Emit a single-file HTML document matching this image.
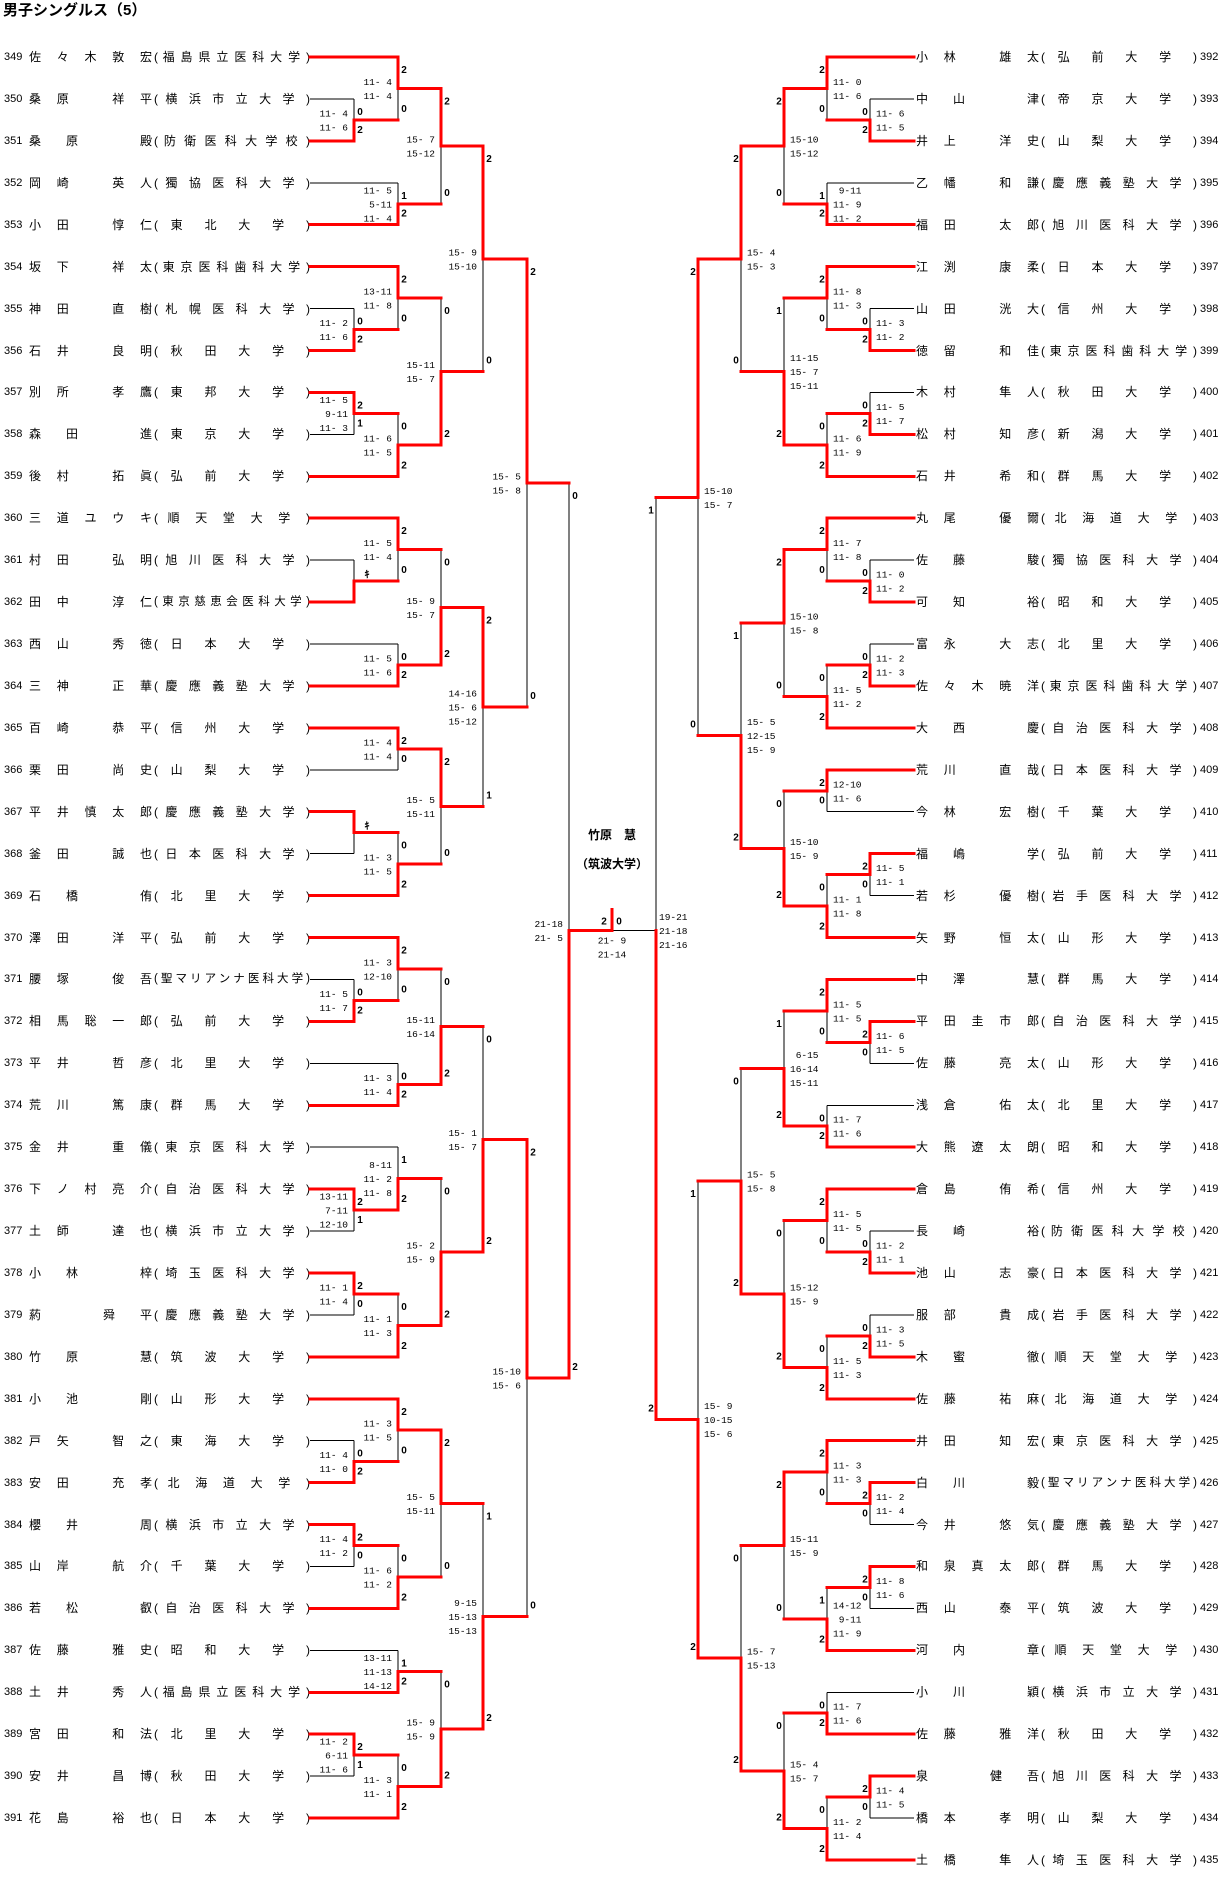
<!DOCTYPE html>
<html><head><meta charset="utf-8">
<style>
html,body{margin:0;padding:0;background:#fff;}
body{width:1225px;height:1885px;position:relative;overflow:hidden;font-family:"Liberation Sans","Noto Sans CJK JP",sans-serif;color:#000;}
.t{position:absolute;left:3px;top:2px;font-size:15px;line-height:18px;font-weight:bold;}
.row{position:absolute;left:0;width:1225px;height:16px;top:calc(49px + var(--i) * 41.93px);font-size:12px;line-height:16px;white-space:nowrap;}
.row span{position:absolute;top:0;}
.no{font-size:11px;}
.nm,.un{text-align:justify;text-align-last:justify;overflow:visible;}
.L .no{left:4px;}
.L .nm{left:29px;width:123px;}
.L .un{left:154px;width:156px;}
.R .nm{left:916px;width:123px;}
.R .un{left:1041px;width:156px;}
.R .no{left:1200px;}
.tight{font-size:11.5px;}
.ch{position:absolute;font-weight:bold;font-size:12px;text-align:center;width:100px;left:562px;}
svg{position:absolute;left:0;top:0;}
svg text.s{font-family:"Liberation Mono",monospace;font-size:9.5px;white-space:pre;}
svg text.l{font-family:"Liberation Sans",sans-serif;font-size:10px;font-weight:bold;}
</style></head><body>
<div class="t">男子シングルス（5）</div>

<div class="row L" style="--i:0"><span class="no">349</span><span class="nm">佐 々 木 敦 宏</span><span class="un">( 福 島 県 立 医 科 大 学 )</span></div>
<div class="row L" style="--i:1"><span class="no">350</span><span class="nm">桑 原 　 祥 平</span><span class="un">( 横 浜 市 立 大 学 )</span></div>
<div class="row L" style="--i:2"><span class="no">351</span><span class="nm">桑 原 　 殿</span><span class="un">( 防 衛 医 科 大 学 校 )</span></div>
<div class="row L" style="--i:3"><span class="no">352</span><span class="nm">岡 崎 　 英 人</span><span class="un">( 獨 協 医 科 大 学 )</span></div>
<div class="row L" style="--i:4"><span class="no">353</span><span class="nm">小 田 　 惇 仁</span><span class="un">( 東 北 大 学 )</span></div>
<div class="row L" style="--i:5"><span class="no">354</span><span class="nm">坂 下 　 祥 太</span><span class="un">( 東 京 医 科 歯 科 大 学 )</span></div>
<div class="row L" style="--i:6"><span class="no">355</span><span class="nm">神 田 　 直 樹</span><span class="un">( 札 幌 医 科 大 学 )</span></div>
<div class="row L" style="--i:7"><span class="no">356</span><span class="nm">石 井 　 良 明</span><span class="un">( 秋 田 大 学 )</span></div>
<div class="row L" style="--i:8"><span class="no">357</span><span class="nm">別 所 　 孝 鷹</span><span class="un">( 東 邦 大 学 )</span></div>
<div class="row L" style="--i:9"><span class="no">358</span><span class="nm">森 田 　 進</span><span class="un">( 東 京 大 学 )</span></div>
<div class="row L" style="--i:10"><span class="no">359</span><span class="nm">後 村 　 拓 眞</span><span class="un">( 弘 前 大 学 )</span></div>
<div class="row L" style="--i:11"><span class="no">360</span><span class="nm">三 道 ユ ウ キ</span><span class="un">( 順 天 堂 大 学 )</span></div>
<div class="row L" style="--i:12"><span class="no">361</span><span class="nm">村 田 　 弘 明</span><span class="un">( 旭 川 医 科 大 学 )</span></div>
<div class="row L" style="--i:13"><span class="no">362</span><span class="nm">田 中 　 淳 仁</span><span class="un tight">(東京慈恵会医科大学)</span></div>
<div class="row L" style="--i:14"><span class="no">363</span><span class="nm">西 山 　 秀 徳</span><span class="un">( 日 本 大 学 )</span></div>
<div class="row L" style="--i:15"><span class="no">364</span><span class="nm">三 神 　 正 華</span><span class="un">( 慶 應 義 塾 大 学 )</span></div>
<div class="row L" style="--i:16"><span class="no">365</span><span class="nm">百 崎 　 恭 平</span><span class="un">( 信 州 大 学 )</span></div>
<div class="row L" style="--i:17"><span class="no">366</span><span class="nm">栗 田 　 尚 史</span><span class="un">( 山 梨 大 学 )</span></div>
<div class="row L" style="--i:18"><span class="no">367</span><span class="nm">平 井 慎 太 郎</span><span class="un">( 慶 應 義 塾 大 学 )</span></div>
<div class="row L" style="--i:19"><span class="no">368</span><span class="nm">釜 田 　 誠 也</span><span class="un">( 日 本 医 科 大 学 )</span></div>
<div class="row L" style="--i:20"><span class="no">369</span><span class="nm">石 橋 　 侑</span><span class="un">( 北 里 大 学 )</span></div>
<div class="row L" style="--i:21"><span class="no">370</span><span class="nm">澤 田 　 洋 平</span><span class="un">( 弘 前 大 学 )</span></div>
<div class="row L" style="--i:22"><span class="no">371</span><span class="nm">腰 塚 　 俊 吾</span><span class="un tight">(聖マリアンナ医科大学)</span></div>
<div class="row L" style="--i:23"><span class="no">372</span><span class="nm">相 馬 聡 一 郎</span><span class="un">( 弘 前 大 学 )</span></div>
<div class="row L" style="--i:24"><span class="no">373</span><span class="nm">平 井 　 哲 彦</span><span class="un">( 北 里 大 学 )</span></div>
<div class="row L" style="--i:25"><span class="no">374</span><span class="nm">荒 川 　 篤 康</span><span class="un">( 群 馬 大 学 )</span></div>
<div class="row L" style="--i:26"><span class="no">375</span><span class="nm">金 井 　 重 儀</span><span class="un">( 東 京 医 科 大 学 )</span></div>
<div class="row L" style="--i:27"><span class="no">376</span><span class="nm">下 ノ 村 亮 介</span><span class="un">( 自 治 医 科 大 学 )</span></div>
<div class="row L" style="--i:28"><span class="no">377</span><span class="nm">土 師 　 達 也</span><span class="un">( 横 浜 市 立 大 学 )</span></div>
<div class="row L" style="--i:29"><span class="no">378</span><span class="nm">小 林 　 梓</span><span class="un">( 埼 玉 医 科 大 学 )</span></div>
<div class="row L" style="--i:30"><span class="no">379</span><span class="nm">葯 　 舜 平</span><span class="un">( 慶 應 義 塾 大 学 )</span></div>
<div class="row L" style="--i:31"><span class="no">380</span><span class="nm">竹 原 　 慧</span><span class="un">( 筑 波 大 学 )</span></div>
<div class="row L" style="--i:32"><span class="no">381</span><span class="nm">小 池 　 剛</span><span class="un">( 山 形 大 学 )</span></div>
<div class="row L" style="--i:33"><span class="no">382</span><span class="nm">戸 矢 　 智 之</span><span class="un">( 東 海 大 学 )</span></div>
<div class="row L" style="--i:34"><span class="no">383</span><span class="nm">安 田 　 充 孝</span><span class="un">( 北 海 道 大 学 )</span></div>
<div class="row L" style="--i:35"><span class="no">384</span><span class="nm">櫻 井 　 周</span><span class="un">( 横 浜 市 立 大 学 )</span></div>
<div class="row L" style="--i:36"><span class="no">385</span><span class="nm">山 岸 　 航 介</span><span class="un">( 千 葉 大 学 )</span></div>
<div class="row L" style="--i:37"><span class="no">386</span><span class="nm">若 松 　 叡</span><span class="un">( 自 治 医 科 大 学 )</span></div>
<div class="row L" style="--i:38"><span class="no">387</span><span class="nm">佐 藤 　 雅 史</span><span class="un">( 昭 和 大 学 )</span></div>
<div class="row L" style="--i:39"><span class="no">388</span><span class="nm">土 井 　 秀 人</span><span class="un">( 福 島 県 立 医 科 大 学 )</span></div>
<div class="row L" style="--i:40"><span class="no">389</span><span class="nm">宮 田 　 和 法</span><span class="un">( 北 里 大 学 )</span></div>
<div class="row L" style="--i:41"><span class="no">390</span><span class="nm">安 井 　 昌 博</span><span class="un">( 秋 田 大 学 )</span></div>
<div class="row L" style="--i:42"><span class="no">391</span><span class="nm">花 島 　 裕 也</span><span class="un">( 日 本 大 学 )</span></div>

<div class="row R" style="--i:0"><span class="nm">小 林 　 雄 太</span><span class="un">( 弘 前 大 学 )</span><span class="no">392</span></div>
<div class="row R" style="--i:1"><span class="nm">中 山 　 津</span><span class="un">( 帝 京 大 学 )</span><span class="no">393</span></div>
<div class="row R" style="--i:2"><span class="nm">井 上 　 洋 史</span><span class="un">( 山 梨 大 学 )</span><span class="no">394</span></div>
<div class="row R" style="--i:3"><span class="nm">乙 幡 　 和 謙</span><span class="un">( 慶 應 義 塾 大 学 )</span><span class="no">395</span></div>
<div class="row R" style="--i:4"><span class="nm">福 田 　 太 郎</span><span class="un">( 旭 川 医 科 大 学 )</span><span class="no">396</span></div>
<div class="row R" style="--i:5"><span class="nm">江 渕 　 康 柔</span><span class="un">( 日 本 大 学 )</span><span class="no">397</span></div>
<div class="row R" style="--i:6"><span class="nm">山 田 　 洸 大</span><span class="un">( 信 州 大 学 )</span><span class="no">398</span></div>
<div class="row R" style="--i:7"><span class="nm">徳 留 　 和 佳</span><span class="un">( 東 京 医 科 歯 科 大 学 )</span><span class="no">399</span></div>
<div class="row R" style="--i:8"><span class="nm">木 村 　 隼 人</span><span class="un">( 秋 田 大 学 )</span><span class="no">400</span></div>
<div class="row R" style="--i:9"><span class="nm">松 村 　 知 彦</span><span class="un">( 新 潟 大 学 )</span><span class="no">401</span></div>
<div class="row R" style="--i:10"><span class="nm">石 井 　 希 和</span><span class="un">( 群 馬 大 学 )</span><span class="no">402</span></div>
<div class="row R" style="--i:11"><span class="nm">丸 尾 　 優 爾</span><span class="un">( 北 海 道 大 学 )</span><span class="no">403</span></div>
<div class="row R" style="--i:12"><span class="nm">佐 藤 　 駿</span><span class="un">( 獨 協 医 科 大 学 )</span><span class="no">404</span></div>
<div class="row R" style="--i:13"><span class="nm">可 知 　 裕</span><span class="un">( 昭 和 大 学 )</span><span class="no">405</span></div>
<div class="row R" style="--i:14"><span class="nm">富 永 　 大 志</span><span class="un">( 北 里 大 学 )</span><span class="no">406</span></div>
<div class="row R" style="--i:15"><span class="nm">佐 々 木 暁 洋</span><span class="un">( 東 京 医 科 歯 科 大 学 )</span><span class="no">407</span></div>
<div class="row R" style="--i:16"><span class="nm">大 西 　 慶</span><span class="un">( 自 治 医 科 大 学 )</span><span class="no">408</span></div>
<div class="row R" style="--i:17"><span class="nm">荒 川 　 直 哉</span><span class="un">( 日 本 医 科 大 学 )</span><span class="no">409</span></div>
<div class="row R" style="--i:18"><span class="nm">今 林 　 宏 樹</span><span class="un">( 千 葉 大 学 )</span><span class="no">410</span></div>
<div class="row R" style="--i:19"><span class="nm">福 嶋 　 学</span><span class="un">( 弘 前 大 学 )</span><span class="no">411</span></div>
<div class="row R" style="--i:20"><span class="nm">若 杉 　 優 樹</span><span class="un">( 岩 手 医 科 大 学 )</span><span class="no">412</span></div>
<div class="row R" style="--i:21"><span class="nm">矢 野 　 恒 太</span><span class="un">( 山 形 大 学 )</span><span class="no">413</span></div>
<div class="row R" style="--i:22"><span class="nm">中 澤 　 慧</span><span class="un">( 群 馬 大 学 )</span><span class="no">414</span></div>
<div class="row R" style="--i:23"><span class="nm">平 田 圭 市 郎</span><span class="un">( 自 治 医 科 大 学 )</span><span class="no">415</span></div>
<div class="row R" style="--i:24"><span class="nm">佐 藤 　 亮 太</span><span class="un">( 山 形 大 学 )</span><span class="no">416</span></div>
<div class="row R" style="--i:25"><span class="nm">浅 倉 　 佑 太</span><span class="un">( 北 里 大 学 )</span><span class="no">417</span></div>
<div class="row R" style="--i:26"><span class="nm">大 熊 遼 太 朗</span><span class="un">( 昭 和 大 学 )</span><span class="no">418</span></div>
<div class="row R" style="--i:27"><span class="nm">倉 島 　 侑 希</span><span class="un">( 信 州 大 学 )</span><span class="no">419</span></div>
<div class="row R" style="--i:28"><span class="nm">長 崎 　 裕</span><span class="un">( 防 衛 医 科 大 学 校 )</span><span class="no">420</span></div>
<div class="row R" style="--i:29"><span class="nm">池 山 　 志 豪</span><span class="un">( 日 本 医 科 大 学 )</span><span class="no">421</span></div>
<div class="row R" style="--i:30"><span class="nm">服 部 　 貴 成</span><span class="un">( 岩 手 医 科 大 学 )</span><span class="no">422</span></div>
<div class="row R" style="--i:31"><span class="nm">木 蜜 　 徹</span><span class="un">( 順 天 堂 大 学 )</span><span class="no">423</span></div>
<div class="row R" style="--i:32"><span class="nm">佐 藤 　 祐 麻</span><span class="un">( 北 海 道 大 学 )</span><span class="no">424</span></div>
<div class="row R" style="--i:33"><span class="nm">井 田 　 知 宏</span><span class="un">( 東 京 医 科 大 学 )</span><span class="no">425</span></div>
<div class="row R" style="--i:34"><span class="nm">白 川 　 毅</span><span class="un tight">(聖マリアンナ医科大学)</span><span class="no">426</span></div>
<div class="row R" style="--i:35"><span class="nm">今 井 　 悠 気</span><span class="un">( 慶 應 義 塾 大 学 )</span><span class="no">427</span></div>
<div class="row R" style="--i:36"><span class="nm">和 泉 真 太 郎</span><span class="un">( 群 馬 大 学 )</span><span class="no">428</span></div>
<div class="row R" style="--i:37"><span class="nm">西 山 　 泰 平</span><span class="un">( 筑 波 大 学 )</span><span class="no">429</span></div>
<div class="row R" style="--i:38"><span class="nm">河 内 　 章</span><span class="un">( 順 天 堂 大 学 )</span><span class="no">430</span></div>
<div class="row R" style="--i:39"><span class="nm">小 川 　 穎</span><span class="un">( 横 浜 市 立 大 学 )</span><span class="no">431</span></div>
<div class="row R" style="--i:40"><span class="nm">佐 藤 　 雅 洋</span><span class="un">( 秋 田 大 学 )</span><span class="no">432</span></div>
<div class="row R" style="--i:41"><span class="nm">泉 　 健 吾</span><span class="un">( 旭 川 医 科 大 学 )</span><span class="no">433</span></div>
<div class="row R" style="--i:42"><span class="nm">橋 本 　 孝 明</span><span class="un">( 山 梨 大 学 )</span><span class="no">434</span></div>
<div class="row R" style="--i:43"><span class="nm">土 橋 　 隼 人</span><span class="un">( 埼 玉 医 科 大 学 )</span><span class="no">435</span></div>

<div class="ch" style="top:826px;">竹原　慧</div>
<div class="ch" style="top:855px;">（筑波大学）</div>

<svg id="sv" width="1225" height="1885" xmlns="http://www.w3.org/2000/svg"></svg>

<script>
const LX=[354,398,441,483,527,569], RX=[870,827,784,741,698,656];
function Y(id){return id<392 ? 57+(id-349)*41.93 : 57+(id-392)*41.93;}
function M(t,b,w,s,l,k){return {t:t,b:b,w:w,s:s,l:l,k:k};}
let blk=[], red=[], txt=[];
function line(x1,y1,x2,y2,r){
  const s='<line x1="'+x1+'" y1="'+y1.toFixed(1)+'" x2="'+x2+'" y2="'+y2.toFixed(1)+'"/>';
  if(r) red.push(s); else blk.push(s);
}
function T(x,y,str,cls,anchor){
  txt.push('<text class="'+cls+'" x="'+x+'" y="'+y.toFixed(1)+'" text-anchor="'+anchor+'">'+str+'</text>');
}
function walk(n,lev,side){
  const X=side?RX:LX, x=X[lev], edge=side?914:310;
  const ys=[];
  [n.t,n.b].forEach(function(c,i){
    let cy,cx;
    if(typeof c==='number'){cy=Y(c);cx=edge;line(cx,cy,x,cy,n.w===i);}
    else{cy=walk(c,lev-1,side);cx=X[lev-1];line(cx,cy,x,cy,true);}
    ys.push(cy);
  });
  const mid=(ys[0]+ys[1])/2;
  line(x,ys[0],x,ys[1],false);
  line(x,ys[n.w],x,mid,true);
  if(n.l){
    const lx=side?x-5:x+6;
    T(lx,ys[0]+16,n.l[0],'l','middle');
    T(lx,ys[1]-8,n.l[1],'l','middle');
  }
  if(n.s){
    const a=n.s.split('|');
    a.forEach(function(s,i){
      const yy=mid+(i-(a.length-1)/2)*14+3.5;
      if(side) T(x+6,yy,s,'s','start'); else T(x-6,yy,s,'s','end');
    });
  }
  if(n.k){ T(side?x-13:x+13,mid-3,'ｷ','l','middle'); }
  return mid;
}
const L=M(
 M(
  M(
   M( M(349, M(350,351,1,"11- 4|11- 6",[0,2]), 0,"11- 4|11- 4",[2,0]),
      M(352,353,1,"11- 5| 5-11|11- 4",[1,2]),
      0,"15- 7|15-12",[2,0]),
   M( M(354, M(355,356,1,"11- 2|11- 6",[0,2]), 0,"13-11|11- 8",[2,0]),
      M( M(357,358,0,"11- 5| 9-11|11- 3",[2,1]), 359, 1,"11- 6|11- 5",[0,2]),
      1,"15-11|15- 7",[0,2]),
   0,"15- 9|15-10",[2,0]),
  M(
   M( M(360, M(361,362,1,"",null,1), 0,"11- 5|11- 4",[2,0]),
      M(363,364,1,"11- 5|11- 6",[0,2]),
      1,"15- 9|15- 7",[0,2]),
   M( M(365,366,0,"11- 4|11- 4",[2,0]),
      M( M(367,368,0,"",null,1), 369, 1,"11- 3|11- 5",[0,2]),
      0,"15- 5|15-11",[2,0]),
   0,"14-16|15- 6|15-12",[2,1]),
  0,"15- 5|15- 8",[2,0]),
 M(
  M(
   M( M(370, M(371,372,1,"11- 5|11- 7",[0,2]), 0,"11- 3|12-10",[2,0]),
      M(373,374,1,"11- 3|11- 4",[0,2]),
      1,"15-11|16-14",[0,2]),
   M( M(375, M(376,377,0,"13-11| 7-11|12-10",[2,1]), 1," 8-11|11- 2|11- 8",[1,2]),
      M( M(378,379,0,"11- 1|11- 4",[2,0]), 380, 1,"11- 1|11- 3",[0,2]),
      1,"15- 2|15- 9",[0,2]),
   1,"15- 1|15- 7",[0,2]),
  M(
   M( M(381, M(382,383,1,"11- 4|11- 0",[0,2]), 0,"11- 3|11- 5",[2,0]),
      M( M(384,385,0,"11- 4|11- 2",[2,0]), 386, 1,"11- 6|11- 2",[0,2]),
      0,"15- 5|15-11",[2,0]),
   M( M(387,388,1,"13-11|11-13|14-12",[1,2]),
      M( M(389,390,0,"11- 2| 6-11|11- 6",[2,1]), 391, 1,"11- 3|11- 1",[0,2]),
      1,"15- 9|15- 9",[0,2]),
   1," 9-15|15-13|15-13",[1,2]),
  0,"15-10|15- 6",[2,0]),
 1,"21-18|21- 5",[0,2]);
const R=M(
 M(
  M(
   M( M(392, M(393,394,1,"11- 6|11- 5",[0,2]), 0,"11- 0|11- 6",[2,0]),
      M(395,396,1," 9-11|11- 9|11- 2",[1,2]),
      0,"15-10|15-12",[2,0]),
   M( M(397, M(398,399,1,"11- 3|11- 2",[0,2]), 0,"11- 8|11- 3",[2,0]),
      M( M(400,401,1,"11- 5|11- 7",[0,2]), 402, 1,"11- 6|11- 9",[0,2]),
      1,"11-15|15- 7|15-11",[1,2]),
   0,"15- 4|15- 3",[2,0]),
  M(
   M( M(403, M(404,405,1,"11- 0|11- 2",[0,2]), 0,"11- 7|11- 8",[2,0]),
      M( M(406,407,1,"11- 2|11- 3",[0,2]), 408, 1,"11- 5|11- 2",[0,2]),
      0,"15-10|15- 8",[2,0]),
   M( M(409,410,0,"12-10|11- 6",[2,0]),
      M( M(411,412,0,"11- 5|11- 1",[2,0]), 413, 1,"11- 1|11- 8",[0,2]),
      1,"15-10|15- 9",[0,2]),
   1,"15- 5|12-15|15- 9",[1,2]),
  0,"15-10|15- 7",[2,0]),
 M(
  M(
   M( M(414, M(415,416,0,"11- 6|11- 5",[2,0]), 0,"11- 5|11- 5",[2,0]),
      M(417,418,1,"11- 7|11- 6",[0,2]),
      1," 6-15|16-14|15-11",[1,2]),
   M( M(419, M(420,421,1,"11- 2|11- 1",[0,2]), 0,"11- 5|11- 5",[2,0]),
      M( M(422,423,1,"11- 3|11- 5",[0,2]), 424, 1,"11- 5|11- 3",[0,2]),
      1,"15-12|15- 9",[0,2]),
   1,"15- 5|15- 8",[0,2]),
  M(
   M( M(425, M(426,427,0,"11- 2|11- 4",[2,0]), 0,"11- 3|11- 3",[2,0]),
      M( M(428,429,0,"11- 8|11- 6",[2,0]), 430, 1,"14-12| 9-11|11- 9",[1,2]),
      0,"15-11|15- 9",[2,0]),
   M( M(431,432,1,"11- 7|11- 6",[0,2]),
      M( M(433,434,0,"11- 4|11- 5",[2,0]), 435, 1,"11- 2|11- 4",[0,2]),
      1,"15- 4|15- 7",[0,2]),
   1,"15- 7|15-13",[0,2]),
  1,"15- 9|10-15|15- 6",[1,2]),
 1,"",[1,2]);
const ly=walk(L,5,0), ry=walk(R,5,1);
line(656,ly,656,ry,true);
line(569,ly,612,ly,true);
line(612,ly,656,ly,false);
line(612,ly-21,612,ly,true);
T(604,ly-6,'2','l','middle');
T(619,ly-6,'0','l','middle');
T(612,ly+13,'21- 9','s','middle');
T(612,ly+27,'21-14','s','middle');
T(659,ly-10.5,'19-21','s','start');
T(659,ly+3.5,'21-18','s','start');
T(659,ly+17.5,'21-16','s','start');
document.getElementById('sv').innerHTML=
 '<g stroke="#000" stroke-width="1" shape-rendering="crispEdges">'+blk.join('')+'</g>'+
 '<g stroke="#ff0000" stroke-width="3" stroke-linecap="square" shape-rendering="crispEdges">'+red.join('')+'</g>'+
 '<g>'+txt.join('')+'</g>';
</script>
</body></html>
